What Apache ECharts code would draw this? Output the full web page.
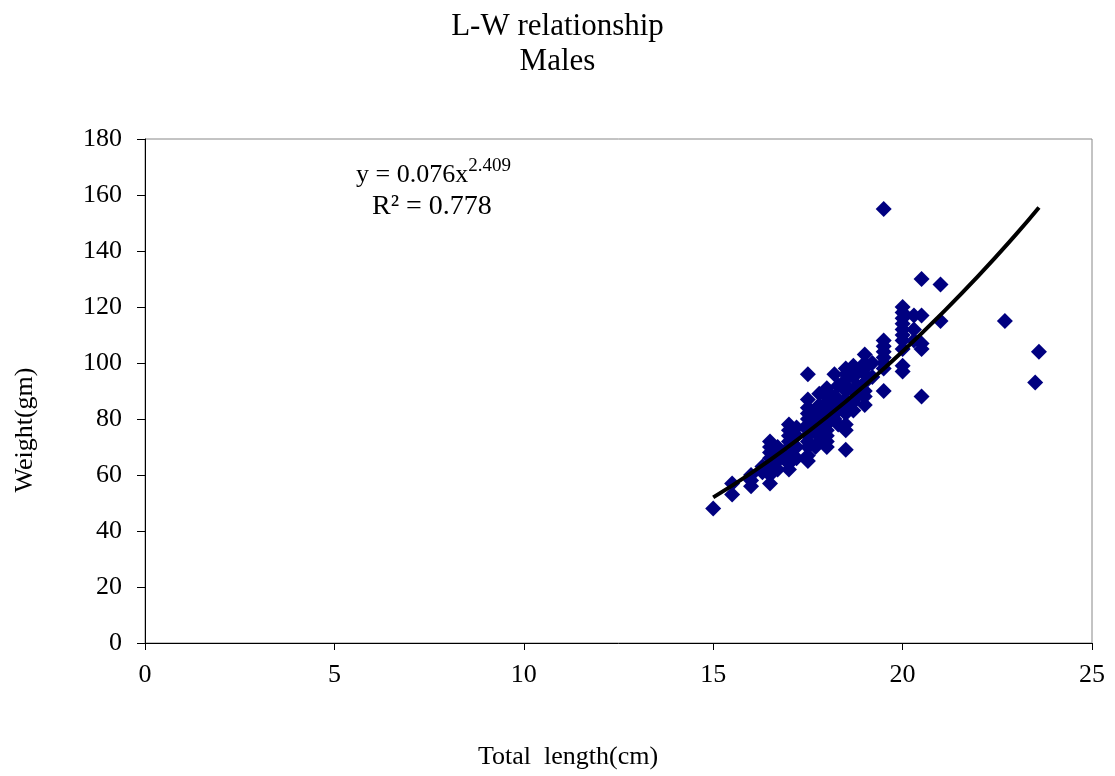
<!DOCTYPE html>
<html>
<head>
<meta charset="utf-8">
<script src="https://cdn.jsdelivr.net/npm/echarts@6/dist/echarts.min.js"></script>
<style>
  html, body { margin: 0; padding: 0; background: #fff; }
  #main { width: 1115px; height: 776px; }
</style>
</head>
<body>
<div id="main"></div>
<script>
// observed lengths (cm) and weights (gm), grouped by length
var lengths = [15, 15.5, 16, 16.3, 16.5, 16.7, 17, 17.2, 17.5, 17.7, 17.8, 18, 18.2, 18.3, 18.5, 18.7, 18.8, 19, 19.2, 19.5, 20, 20.3, 20.5, 21, 22.7, 23.5, 23.6];
var weights = [
    [48],
    [53, 57],
    [56, 58, 60],
    [61, 63],
    [57, 60, 62, 64, 66, 68, 70, 72],
    [62, 65, 67, 70],
    [62, 64, 66, 68, 70, 72, 74, 76, 78],
    [66, 70, 74, 77],
    [65, 67, 70, 72, 74, 76, 78, 80, 82, 84, 87, 96],
    [70, 75, 79, 83],
    [72, 77, 81, 85, 89],
    [70, 72, 74, 76, 78, 80, 82, 84, 86, 88, 90, 91],
    [80, 85, 88, 96],
    [78, 83, 87, 92],
    [69, 76, 78, 82, 85, 87, 90, 92, 94, 96, 98],
    [83, 86, 90, 95, 99],
    [88, 92, 97],
    [85, 88, 90, 93, 96, 98, 100, 103],
    [95, 100],
    [90, 98, 100, 102, 104, 106, 108, 155],
    [97, 99, 105, 108, 110, 112, 114, 116, 118, 120],
    [108, 112, 117],
    [88, 105, 107, 117, 130],
    [115, 128],
    [115],
    [93],
    [104]
];
// power trendline: y = 0.076x^2.409
var trendX = [15, 16, 17, 18, 19, 20, 21, 22, 23, 23.6];
var trendY = [52, 60.7, 70.3, 80.7, 92, 104.1, 117.2, 131.1, 146, 155.5];

var points = [];
for (var i = 0; i < lengths.length; i++) {
    for (var j = 0; j < weights[i].length; j++) {
        points.push([lengths[i], weights[i][j]]);
    }
}
var trend = [];
for (var k = 0; k < trendX.length; k++) {
    trend.push([trendX[k], trendY[k]]);
}

var font = '"Liberation Serif", "Times New Roman", serif';
var chart = echarts.init(document.getElementById('main'));
chart.setOption({
    animation: false,
    title: {
        text: 'L-W relationship\nMales',
        left: 'center',
        top: 4,
        textStyle: { fontFamily: font, fontSize: 31, fontWeight: 'normal', color: '#000', lineHeight: 35 }
    },
    grid: { left: 145, right: 23, top: 139, bottom: 133, show: true, borderColor: '#888', borderWidth: 1 },
    xAxis: {
        type: 'value',
        min: 0, max: 25, interval: 5,
        axisLine: { show: true, lineStyle: { color: '#000', width: 1 } },
        axisTick: { show: true, length: 7, lineStyle: { color: '#000' } },
        axisLabel: { fontFamily: font, fontSize: 26, color: '#000', margin: 19 },
        splitLine: { show: false }
    },
    yAxis: {
        type: 'value',
        min: 0, max: 180, interval: 20,
        axisLine: { show: true, lineStyle: { color: '#000', width: 1 } },
        axisTick: { show: true, length: 8, lineStyle: { color: '#000' } },
        axisLabel: { fontFamily: font, fontSize: 26, color: '#000', margin: 23 },
        splitLine: { show: false }
    },
    series: [
        {
            type: 'scatter',
            data: points,
            symbol: 'diamond',
            symbolSize: 16,
            itemStyle: { color: '#000080', opacity: 1 }
        },
        {
            type: 'line',
            data: trend,
            smooth: true,
            showSymbol: false,
            lineStyle: { color: '#000', width: 4 },
            z: 3
        }
    ],
    graphic: [
        {
            type: 'text',
            x: 568,
            y: 757,
            style: { text: 'Total  length(cm)', fontFamily: font, fontSize: 26, fill: '#000', align: 'center', verticalAlign: 'middle' }
        },
        {
            type: 'text',
            x: 25,
            y: 430,
            rotation: Math.PI / 2,
            style: { text: 'Weight(gm)', fontFamily: font, fontSize: 26, fill: '#000', align: 'center', verticalAlign: 'middle' }
        },
        {
            type: 'text',
            left: 356,
            top: 157,
            style: {
                text: '{b|y = 0.076x}{s|2.409}',
                rich: {
                    b: { fontFamily: font, fontSize: 26, color: '#000', verticalAlign: 'bottom' },
                    s: { fontFamily: font, fontSize: 19, color: '#000', verticalAlign: 'top', padding: [0, 0, 12, 0] }
                }
            }
        },
        {
            type: 'text',
            left: 372,
            top: 193,
            style: { text: 'R² = 0.778', fontFamily: font, fontSize: 28, fill: '#000' }
        }
    ]
});
</script>
</body>
</html>
